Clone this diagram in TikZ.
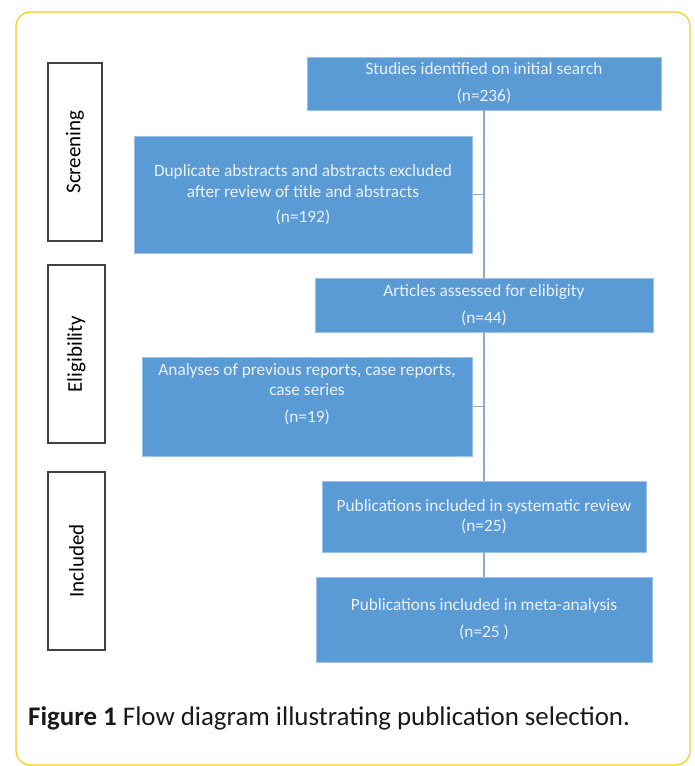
\documentclass[tikz,border=0pt]{standalone}
\usepackage{fontspec}
\setmainfont{Carlito}
\usetikzlibrary{positioning}
\definecolor{boxblue}{HTML}{5B9BD5}
\definecolor{boxedge}{HTML}{9DC3E6}
\definecolor{boxtext}{HTML}{EBF1F8}
\definecolor{linkblue}{HTML}{8FAACC}
\definecolor{frameyellow}{HTML}{F8CB1C}
\tikzstyle{stage} = [rectangle, draw=boxedge, line width=0.8pt, fill=boxblue, text=boxtext, align=center, font=\fontsize{17.3}{20.5}\selectfont, inner sep=0pt]
\tikzstyle{phase} = [rectangle, draw=black!75, line width=1.3pt, fill=white, inner sep=0pt, font=\fontsize{21}{25}\selectfont]
\tikzstyle{flow} = [draw=linkblue, line width=1.5pt]

\begin{document}
\begin{tikzpicture}[node distance = 3cm, auto]
            \useasboundingbox (0,0) rectangle (694pt,-766pt);
            \draw[frameyellow, line width=1.2pt, rounded corners=14pt] (16pt,-12pt) rectangle (690pt,-765pt);

            \node[stage, minimum width=354pt, minimum height=53pt] (search) at (484pt,-83.5pt) {Studies identified on initial search\\[6.5pt](n=236)};
            \node[stage, minimum width=338pt, minimum height=54pt, below of=search, node distance=221.5pt] (assessed) {Articles assessed for elibigity\\[6.5pt](n=44)};
            \node[stage, minimum width=324pt, minimum height=71pt, below of=assessed, node distance=211.5pt] (review) {Publications included in systematic review\\(n=25)};
            \node[stage, minimum width=336pt, minimum height=85pt, below of=review, node distance=103pt] (meta) {Publications included in meta-analysis\\[6.5pt](n=25 )};
            \node[stage, minimum width=338pt, minimum height=117pt, below of=search, node distance=111pt, xshift=-181pt] (excluded) {Duplicate abstracts and abstracts excluded\\after review of title and abstracts\\[4.5pt](n=192)};
            \node[stage, minimum width=330pt, minimum height=99pt, below of=assessed, node distance=101.5pt, xshift=-177pt] (reports) {Analyses of previous reports, case reports,\\case series\\[6.5pt](n=19)\\[7pt]~};

            \node[phase, minimum width=54pt, minimum height=178pt] (screening) at (75pt,-152pt) {\rotatebox{90}{Screening}};
            \node[phase, minimum width=57pt, minimum height=178pt] (eligibility) at (76.5pt,-354pt) {\rotatebox{90}{Eligibility}};
            \node[phase, minimum width=57pt, minimum height=178pt] (included) at (76.5pt,-561pt) {\rotatebox{90}{Included}};

            \coordinate (outA) at (search.south |- excluded.east);
            \coordinate (outB) at (assessed.south |- reports.east);

            \path [flow] (search.south) -- (assessed.north);
            \path [flow] (outA) -- (excluded.east);
            \path [flow] (assessed.south) -- (review.north);
            \path [flow] (outB) -- (reports.east);
            \path [flow] (review.south) -- (meta.north);

            \node[anchor=base west, inner sep=0pt, font=\fontsize{26.9}{30}\selectfont, text=black!90] (caption) at (28pt,-725pt) {\textbf{Figure 1} Flow diagram illustrating publication selection.};
        \end{tikzpicture}
\end{document}
